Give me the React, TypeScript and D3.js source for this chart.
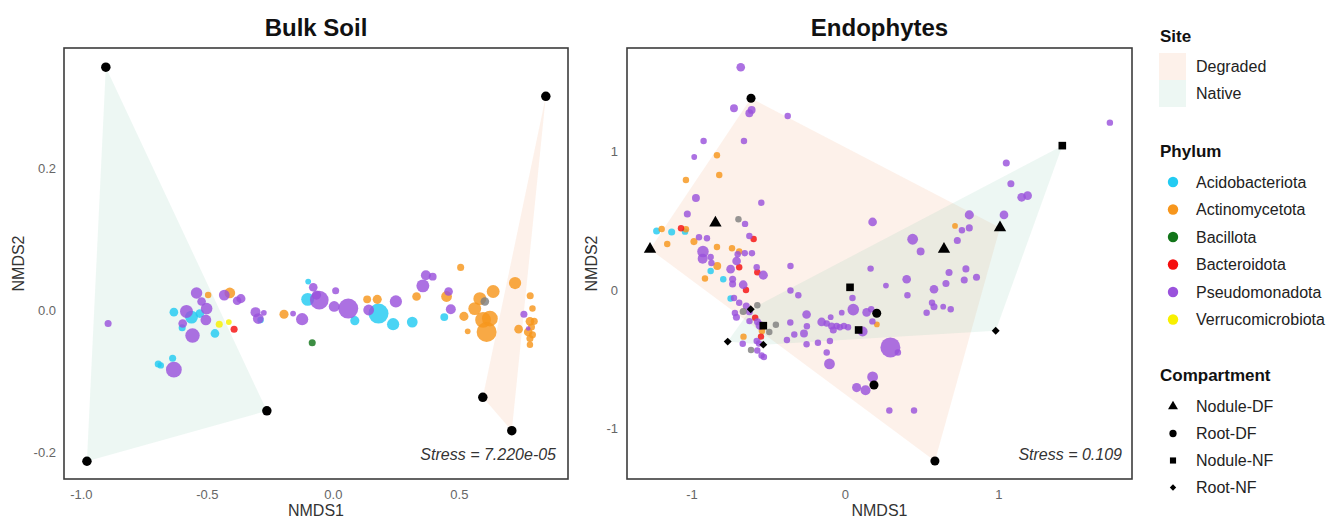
import React, { useEffect, useRef } from "react";
import * as d3 from "d3";

const W = 1326;
const H = 518;
const FONT = "'Liberation Sans', Arial, sans-serif";

const phyla = ["Acidobacteriota", "Actinomycetota", "Bacillota", "Bacteroidota", "Pseudomonadota", "Verrucomicrobiota"];
const phylumColors = ["#22cbf2", "#f7961c", "#12751a", "#f50f0f", "#9a52dc", "#f8f000"];
const naColor = "#7f7f7f";

const sites = ["Degraded", "Native"];
const siteColors = ["#f2a070", "#86c8b0"];

const compartments = ["Nodule-DF", "Root-DF", "Nodule-NF", "Root-NF"];

// [NMDS1, NMDS2, relative abundance]
const bulkAcidobacteriota = [
  [-0.631, -0.003, 1.8], [-0.561, -0.01, 4], [-0.528, -0.005, 1.8], [-0.598, -0.025, 1.2],
  [-0.468, -0.033, 1.8], [-0.287, -0.014, 1], [-0.098, 0.04, 0.8], [-0.1, 0.015, 4],
  [0.087, -0.015, 2], [0.181, -0.005, 9.6], [0.239, -0.02, 3.6], [0.315, -0.017, 2.8],
  [0.442, -0.01, 1.5], [-0.693, -0.076, 1.2], [-0.683, -0.078, 1], [-0.636, -0.068, 1.2],
];
const bulkActinomycetota = [
  [-0.495, 0.021, 1], [-0.409, 0.024, 2.8], [-0.194, -0.006, 2], [0.136, 0.015, 1.5],
  [0.176, 0.015, 2], [0.332, 0.019, 1.8], [0.507, 0.06, 1.2], [0.451, 0.019, 2.8],
  [0.52, -0.009, 2], [0.535, -0.03, 0.8], [0.583, 0.016, 4], [0.563, 0.002, 4],
  [0.636, 0.026, 4], [0.596, -0.014, 6], [0.623, -0.012, 6], [0.61, -0.031, 9.6],
  [0.723, 0.038, 3.6], [0.737, -0.027, 1.8], [0.783, 0.02, 1.2], [0.792, 0.002, 1],
  [0.782, -0.016, 1.8], [0.799, -0.016, 1.2], [0.775, -0.031, 1.8], [0.788, -0.024, 1.2],
  [0.782, -0.04, 1.2], [0.782, -0.049, 1], [0.792, -0.035, 1.2],
];
const bulkBacillota = [[-0.082, -0.046, 1.2]];
const bulkBacteroidota = [[-0.392, -0.027, 1.2]];
const bulkPseudomonadota = [
  [-0.581, -0.002, 4], [-0.541, 0.024, 3.2], [-0.521, 0.012, 1.8], [-0.501, 0.002, 3.2],
  [-0.504, -0.014, 2.8], [-0.596, -0.019, 1.8], [-0.557, -0.036, 5], [-0.431, 0.021, 2.8],
  [-0.38, 0.013, 1.8], [-0.365, 0.016, 2], [-0.307, -0.003, 2.4], [-0.296, -0.012, 2.8],
  [-0.274, -0.004, 0.8], [-0.158, -0.005, 0.8], [-0.122, -0.013, 3.6], [-0.078, 0.032, 1.8],
  [-0.054, 0.014, 8.4], [-0.065, 0.021, 2], [0.011, 0.027, 1.2], [0.005, 0.005, 2.8],
  [0.061, 0.002, 9.6], [0.142, 0.0, 2.8], [0.25, 0.012, 3.6], [0.357, 0.034, 4],
  [0.369, 0.049, 2.4], [0.396, 0.047, 1.5], [0.459, 0.026, 1.8], [0.468, 0.001, 2.4],
  [0.758, -0.006, 1.2], [0.775, -0.026, 0.5], [-0.892, -0.019, 1.2], [-0.631, -0.084, 6],
];
const bulkVerrucomicrobiota = [[-0.451, -0.02, 1.2], [-0.413, -0.017, 0.8]];
const bulkUnassigned = [[0.603, 0.012, 1.8]];

// sample scores (bulk soil)
const bulkDegraded = [[0.845, 0.301], [0.595, -0.123], [0.71, -0.17]];
const bulkNative = [[-0.901, 0.342], [-0.976, -0.213], [-0.262, -0.142]];

const endoAcidobacteriota = [
  [-1.227, 0.426, 1.2], [-1.129, 0.419, 1.2], [-1.042, 0.421, 1], [-0.875, 0.137, 1],
  [-0.793, 0.077, 1], [-0.745, -0.061, 1],
];
const endoActinomycetota = [
  [-1.194, 0.44, 1], [-1.036, 0.438, 1], [-1.158, 0.332, 1], [-0.984, 0.349, 1.2],
  [-0.834, 0.973, 1], [-0.819, 0.83, 1], [-1.036, 0.794, 1], [-0.834, 0.31, 1],
  [-0.736, 0.301, 1], [-0.689, 0.277, 1], [-0.832, 0.173, 1.5], [-0.912, 0.082, 1],
  [-0.541, -0.296, 1], [-0.661, -0.337, 1], [0.208, -0.249, 0.8], [0.717, 0.462, 0.8],
];
const endoBacteroidota = [
  [-1.068, 0.445, 1], [-0.595, 0.368, 1], [-0.689, 0.164, 1], [-0.571, 0.128, 1],
  [-0.645, 0.0, 1], [-0.585, -0.201, 1], [-0.547, -0.337, 1],
];
const endoPseudomonadota = [
  [-0.679, 1.608, 1.8], [-0.723, 1.312, 1.5], [-0.608, 1.3, 1.5], [-0.623, 1.276, 1.5],
  [-0.373, 1.256, 1], [-0.921, 1.076, 1], [-0.658, 1.076, 1], [-0.982, 0.96, 0.8],
  [-0.971, 0.664, 1.5], [-0.545, 0.63, 1], [-1.027, 0.549, 1.2], [-0.651, 0.477, 1],
  [-0.951, 0.381, 1], [-0.899, 0.373, 1], [-0.623, 0.39, 1], [-0.925, 0.277, 3.2],
  [-0.927, 0.226, 2.4], [-0.875, 0.238, 1], [-0.87, 0.195, 1], [-0.699, 0.258, 1],
  [-0.653, 0.265, 1], [-0.606, 0.265, 1], [-0.706, 0.209, 1.8], [-0.745, 0.15, 1.8],
  [-0.575, 0.164, 1], [-0.532, 0.107, 2], [-0.355, 0.173, 1], [-0.732, 0.077, 1.2],
  [-0.732, 0.043, 1.2], [-0.663, 0.038, 1.8], [-0.723, -0.058, 1], [-0.689, -0.092, 1],
  [-0.643, -0.116, 1.2], [-0.707, -0.197, 1.2], [-0.717, -0.166, 1], [-0.623, -0.157, 1.2],
  [-0.622, -0.225, 1], [-0.57, -0.229, 1.2], [-0.554, -0.256, 1.8], [-0.666, -0.388, 1],
  [-0.575, -0.368, 1], [-0.56, -0.386, 1], [-0.571, -0.437, 1], [-0.543, -0.473, 1],
  [-0.528, -0.484, 1], [-0.355, -0.004, 1], [-0.304, -0.038, 1], [-0.25, -0.177, 1.8],
  [-0.356, -0.235, 1], [-0.248, -0.262, 1], [-0.33, -0.321, 1], [-0.267, -0.314, 1.5],
  [-0.378, -0.361, 1], [-0.25, -0.392, 1], [-0.176, -0.381, 1], [-0.152, -0.231, 1.8],
  [-0.119, -0.242, 1], [-0.093, -0.197, 0.8], [-0.087, -0.26, 1.2], [-0.054, -0.26, 1],
  [-0.033, -0.269, 1], [-0.007, -0.26, 1], [0.02, -0.269, 1], [-0.076, -0.289, 1.2],
  [-0.098, -0.368, 1], [-0.119, -0.451, 1], [-0.101, -0.534, 2.8], [-0.021, -0.164, 0.8],
  [0.049, -0.058, 1], [0.054, -0.142, 3.2], [0.141, -0.162, 1.8], [0.171, -0.139, 1],
  [0.179, -0.227, 1], [0.115, -0.3, 2.4], [0.18, 0.491, 1.8], [0.167, 0.154, 1],
  [0.267, 0.032, 0.8], [0.402, 0.077, 1.8], [0.407, -0.038, 1], [0.441, 0.366, 2.8],
  [0.493, 0.278, 1.5], [0.58, 0.005, 1.8], [0.567, -0.092, 1], [0.58, -0.121, 1.2],
  [0.64, -0.121, 0.8], [0.689, -0.139, 1], [0.532, -0.164, 1], [0.296, -0.415, 9.6],
  [0.345, -0.451, 1], [0.18, -0.628, 2.8], [0.076, -0.705, 2], [0.134, -0.724, 2.4],
  [0.289, -0.87, 1], [0.45, -0.87, 1], [0.678, 0.126, 1.2], [0.658, 0.047, 1.2],
  [0.788, 0.152, 1.2], [0.857, 0.092, 1.2], [0.777, 0.072, 1.2], [0.732, 0.357, 1.2],
  [0.762, 0.431, 1], [0.81, 0.448, 1.2], [0.81, 0.542, 2], [1.036, 0.542, 1.8],
  [1.051, 0.917, 1.2], [1.081, 0.767, 1.2], [1.151, 0.669, 1.8], [1.19, 0.681, 1.8],
  [1.726, 1.208, 1],
];
const endoUnassigned = [
  [-0.694, 0.51, 1], [-0.571, -0.11, 1], [-0.663, -0.155, 1.2], [-0.45, -0.251, 1],
  [-0.493, -0.303, 1], [-0.612, -0.433, 1],
];

// sample scores (endophytes)
const endoNoduleDF = [[-1.27, 0.294], [-0.844, 0.484], [0.645, 0.294], [1.01, 0.45]];
const endoRootDF = [[-0.612, 1.384], [0.207, -0.168], [0.189, -0.686], [0.586, -1.235]];
const endoNoduleNF = [[1.416, 1.042], [0.033, 0.019], [0.089, -0.289], [-0.532, -0.258]];
const endoRootNF = [[-0.764, -0.373], [-0.532, -0.395], [-0.614, -0.139], [0.982, -0.294]];

const symbolTypes = [d3.symbolTriangle, d3.symbolCircle, d3.symbolSquare, d3.symbolDiamond2];
const symbolSizes = [66, 64, 58, 40];

const rScale = d3.scaleSqrt().domain([0, 10]).range([0, 10.2]);

function drawPanel(svg, cfg) {
  const g = svg.append("g");
  const x = d3.scaleLinear().domain(cfg.xDomain).range([cfg.left, cfg.right]);
  const y = d3.scaleLinear().domain(cfg.yDomain).range([cfg.bottom, cfg.top]);

  // site hulls
  cfg.hulls.forEach((h) => {
    const hull = d3.polygonHull(h.samples.map((d) => [x(d[0]), y(d[1])]));
    g.append("path")
      .attr("d", "M" + hull.join("L") + "Z")
      .attr("fill", siteColors[sites.indexOf(h.site)])
      .attr("fill-opacity", 0.15);
  });

  // taxa
  cfg.taxa.forEach((t) => {
    g.append("g")
      .selectAll("circle")
      .data(t.data)
      .enter()
      .append("circle")
      .attr("cx", (d) => x(d[0]))
      .attr("cy", (d) => y(d[1]))
      .attr("r", (d) => rScale(d[2]))
      .attr("fill", t.color)
      .attr("fill-opacity", 0.82);
  });

  // samples
  cfg.samples.forEach((s) => {
    g.append("g")
      .selectAll("path")
      .data(s.data)
      .enter()
      .append("path")
      .attr("transform", (d) => `translate(${x(d[0])},${y(d[1])})`)
      .attr("d", d3.symbol().type(symbolTypes[s.shape]).size(symbolSizes[s.shape] * (s.scale || 1)))
      .attr("fill", "#000");
  });

  // axes
  const xAxis = g.append("g")
    .attr("transform", `translate(0,${cfg.bottom})`)
    .call(d3.axisBottom(x).tickValues(cfg.xTicks).tickSize(0).tickPadding(11).tickFormat(cfg.fmt));
  xAxis.select(".domain").remove();
  const yAxis = g.append("g")
    .attr("transform", `translate(${cfg.left},0)`)
    .call(d3.axisLeft(y).tickValues(cfg.yTicks).tickSize(0).tickPadding(cfg.yPad).tickFormat(cfg.fmt));
  yAxis.select(".domain").remove();
  g.selectAll(".tick text")
    .attr("fill", "#666")
    .style("font-size", "13px")
    .style("font-family", FONT);

  g.append("rect")
    .attr("x", cfg.left)
    .attr("y", cfg.top)
    .attr("width", cfg.right - cfg.left)
    .attr("height", cfg.bottom - cfg.top)
    .attr("fill", "none")
    .attr("stroke", "#3c3c3c")
    .attr("stroke-width", 1.6);

  g.append("text")
    .attr("x", (cfg.left + cfg.right) / 2)
    .attr("y", 36)
    .attr("text-anchor", "middle")
    .style("font-size", "24px")
    .style("font-weight", "bold")
    .style("font-family", FONT)
    .attr("fill", "#111")
    .text(cfg.title);

  g.append("text")
    .attr("x", (cfg.left + cfg.right) / 2)
    .attr("y", 516)
    .attr("text-anchor", "middle")
    .style("font-size", "16px")
    .style("font-family", FONT)
    .attr("fill", "#333")
    .text("NMDS1");

  g.append("text")
    .attr("transform", `translate(${cfg.yTitleX},${(cfg.top + cfg.bottom) / 2}) rotate(-90)`)
    .attr("text-anchor", "middle")
    .style("font-size", "16px")
    .style("font-family", FONT)
    .attr("fill", "#333")
    .text("NMDS2");

  g.append("text")
    .attr("x", cfg.right - cfg.stressPad)
    .attr("y", 460)
    .attr("text-anchor", "end")
    .style("font-size", "16px")
    .style("font-style", "italic")
    .style("font-family", FONT)
    .attr("fill", "#333")
    .text(cfg.stress);
}

function drawLegend(svg) {
  const g = svg.append("g").style("font-family", FONT);
  const lx = 1160;
  const tx = 1196;
  const title = (t, yy) =>
    g.append("text").attr("x", lx).attr("y", yy).style("font-size", "17px").style("font-weight", "bold").attr("fill", "#111").text(t);
  const label = (t, yy) =>
    g.append("text").attr("x", tx).attr("y", yy).attr("dy", "0.36em").style("font-size", "16px").attr("fill", "#222").text(t);

  title("Site", 42);
  sites.forEach((s, i) => {
    const yy = 53 + i * 27;
    g.append("rect").attr("x", lx - 1).attr("y", yy).attr("width", 27).attr("height", 27)
      .attr("fill", siteColors[i]).attr("fill-opacity", 0.15);
    label(s, yy + 13.5);
  });

  title("Phylum", 157);
  phyla.forEach((p, i) => {
    const yy = 182 + i * 27.5;
    g.append("circle").attr("cx", 1173).attr("cy", yy).attr("r", 5.2).attr("fill", phylumColors[i]);
    label(p, yy);
  });

  title("Compartment", 381);
  compartments.forEach((c, i) => {
    const yy = 406.5 + i * 27;
    g.append("path")
      .attr("transform", `translate(1173,${yy})`)
      .attr("d", d3.symbol().type(symbolTypes[i]).size(symbolSizes[i] * 0.65))
      .attr("fill", "#000");
    label(c, yy);
  });
}

export default function App() {
  const ref = useRef(null);

  useEffect(() => {
    const svg = d3.select(ref.current);
    svg.selectAll("*").remove();

    const taxa = (list) => list.map((data, i) => ({ data, color: i < phyla.length ? phylumColors[i] : naColor }));

    drawPanel(svg, {
      title: "Bulk Soil",
      left: 64, right: 568, top: 48, bottom: 479,
      xDomain: [-1.067, 0.933], yDomain: [-0.238, 0.369],
      xTicks: [-1.0, -0.5, 0.0, 0.5], yTicks: [-0.2, 0.0, 0.2],
      fmt: (d) => d.toFixed(1),
      yPad: 8, yTitleX: 24, stressPad: 12,
      stress: "Stress = 7.220e-05",
      hulls: [{ site: "Degraded", samples: bulkDegraded }, { site: "Native", samples: bulkNative }],
      taxa: taxa([bulkAcidobacteriota, bulkActinomycetota, bulkBacillota, bulkBacteroidota, bulkPseudomonadota, bulkVerrucomicrobiota, bulkUnassigned]),
      samples: [{ data: bulkDegraded, shape: 1, scale: 1.1 }, { data: bulkNative, shape: 1, scale: 1.1 }],
    });

    drawPanel(svg, {
      title: "Endophytes",
      left: 627, right: 1132, top: 48, bottom: 479,
      xDomain: [-1.42, 1.87], yDomain: [-1.365, 1.747],
      xTicks: [-1, 0, 1], yTicks: [-1, 0, 1],
      fmt: (d) => String(d),
      yPad: 9, yTitleX: 597, stressPad: 10,
      stress: "Stress = 0.109",
      hulls: [
        { site: "Degraded", samples: endoNoduleDF.concat(endoRootDF) },
        { site: "Native", samples: endoNoduleNF.concat(endoRootNF) },
      ],
      taxa: taxa([endoAcidobacteriota, endoActinomycetota, [], endoBacteroidota, endoPseudomonadota, [], endoUnassigned]),
      samples: [
        { data: endoNoduleDF, shape: 0 },
        { data: endoRootDF, shape: 1 },
        { data: endoNoduleNF, shape: 2 },
        { data: endoRootNF, shape: 3 },
      ],
    });

    drawLegend(svg);
  }, []);

  return (
    <svg
      ref={ref}
      width={W}
      height={H}
      style={{ position: "absolute", left: 0, top: 0, background: "#fff" }}
    />
  );
}
